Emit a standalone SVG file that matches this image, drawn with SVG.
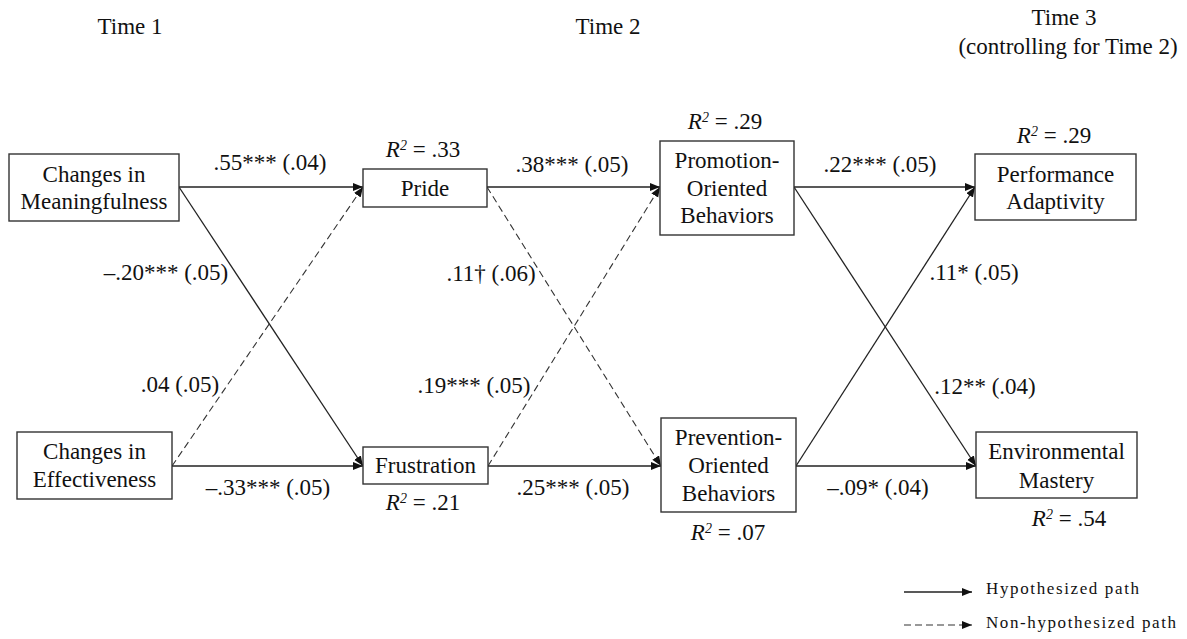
<svg xmlns="http://www.w3.org/2000/svg" width="1187" height="639" viewBox="0 0 1187 639">
<defs>
<style>
text{font-family:'Liberation Serif','Times New Roman','DejaVu Serif',serif;font-size:23px;fill:#111;}
.c{text-anchor:middle;}
.box{fill:#fff;stroke:#333;stroke-width:1.4;}
.p{stroke:#222;stroke-width:1.3;fill:none;marker-end:url(#ah);}
.d{stroke:#333;stroke-width:1.1;fill:none;stroke-dasharray:7,4;marker-end:url(#ah);}
.leg{font-size:17px;}
.i{font-style:italic;}
.sup{font-size:14px;font-style:italic;}
</style>
<marker id="ah" markerUnits="userSpaceOnUse" markerWidth="11" markerHeight="9" refX="10" refY="4" orient="auto">
<path d="M0,0 L10,4 L0,8 z" fill="#111"/>
</marker>
</defs>
<rect width="1187" height="639" fill="#fff"/>

<g id="headers" font-family="Liberation Serif, serif">
<text class="c" x="130" y="34">Time 1</text>
<text class="c" x="608" y="34">Time 2</text>
<text class="c" x="1064" y="25">Time 3</text>
<text class="c" x="1068" y="54">(controlling for Time 2)</text>
</g>

<g id="connectors">
<line class="p" x1="179" y1="187" x2="363" y2="187"/>
<line class="p" x1="179" y1="187" x2="363" y2="466"/>
<line class="d" x1="172" y1="466" x2="363" y2="187"/>
<line class="p" x1="172" y1="466" x2="363" y2="466"/>
<line class="p" x1="487" y1="187" x2="660" y2="187"/>
<line class="d" x1="487" y1="187" x2="661" y2="466"/>
<line class="d" x1="488" y1="466" x2="660" y2="187"/>
<line class="p" x1="488" y1="466" x2="661" y2="466"/>
<line class="p" x1="794" y1="187" x2="975" y2="187"/>
<line class="p" x1="794" y1="187" x2="976" y2="466"/>
<line class="p" x1="796" y1="466" x2="975" y2="187"/>
<line class="p" x1="796" y1="466" x2="976" y2="466"/>
</g>

<g id="path-labels">
<text class="c" x="270" y="170">.55*** (.04)</text>
<text class="c" x="166" y="280">–.20*** (.05)</text>
<text class="c" x="180" y="392">.04 (.05)</text>
<text class="c" x="268" y="495">–.33*** (.05)</text>
<text class="c" x="572" y="172">.38*** (.05)</text>
<text class="c" x="491" y="281">.11† (.06)</text>
<text class="c" x="474" y="393">.19*** (.05)</text>
<text class="c" x="573" y="495">.25*** (.05)</text>
<text class="c" x="880" y="172">.22*** (.05)</text>
<text class="c" x="974" y="280">.11* (.05)</text>
<text class="c" x="985" y="394">.12** (.04)</text>
<text class="c" x="878" y="495">–.09* (.04)</text>
</g>

<g id="node-meaningfulness">
<rect class="box" x="9" y="154" width="170" height="67"/>
<text class="c" x="94" y="182">Changes in</text>
<text class="c" x="94" y="209">Meaningfulness</text>
</g>

<g id="node-effectiveness">
<rect class="box" x="17" y="432" width="155" height="67"/>
<text class="c" x="94.5" y="459">Changes in</text>
<text class="c" x="94.5" y="487">Effectiveness</text>
</g>

<g id="node-pride">
<rect class="box" x="363" y="169" width="124" height="38"/>
<text class="c" x="425" y="196">Pride</text>
<text class="c" x="423" y="157"><tspan class="i">R</tspan><tspan class="sup" dy="-7">2</tspan><tspan dy="7"> = .33</tspan></text>
</g>

<g id="node-frustration">
<rect class="box" x="363" y="447" width="125" height="37"/>
<text class="c" x="425.5" y="473">Frustration</text>
<text class="c" x="423" y="510"><tspan class="i">R</tspan><tspan class="sup" dy="-7">2</tspan><tspan dy="7"> = .21</tspan></text>
</g>

<g id="node-promotion">
<rect class="box" x="660" y="141" width="134" height="94"/>
<text class="c" x="727" y="168">Promotion-</text>
<text class="c" x="727" y="196">Oriented</text>
<text class="c" x="727" y="223">Behaviors</text>
<text class="c" x="725" y="129"><tspan class="i">R</tspan><tspan class="sup" dy="-7">2</tspan><tspan dy="7"> = .29</tspan></text>
</g>

<g id="node-prevention">
<rect class="box" x="661" y="418" width="135" height="94"/>
<text class="c" x="728.5" y="445">Prevention-</text>
<text class="c" x="728.5" y="473">Oriented</text>
<text class="c" x="728.5" y="501">Behaviors</text>
<text class="c" x="728" y="540"><tspan class="i">R</tspan><tspan class="sup" dy="-7">2</tspan><tspan dy="7"> = .07</tspan></text>
</g>

<g id="node-performance">
<rect class="box" x="975" y="154" width="161" height="66"/>
<text class="c" x="1055.5" y="182">Performance</text>
<text class="c" x="1055.5" y="209">Adaptivity</text>
<text class="c" x="1054" y="143"><tspan class="i">R</tspan><tspan class="sup" dy="-7">2</tspan><tspan dy="7"> = .29</tspan></text>
</g>

<g id="node-environmental">
<rect class="box" x="976" y="432" width="161" height="66"/>
<text class="c" x="1056.5" y="459">Environmental</text>
<text class="c" x="1056.5" y="488">Mastery</text>
<text class="c" x="1069" y="526"><tspan class="i">R</tspan><tspan class="sup" dy="-7">2</tspan><tspan dy="7"> = .54</tspan></text>
</g>

<g id="legend">
<line class="p" x1="904" y1="592" x2="972" y2="592" stroke-width="1.1"/>
<text class="leg" x="986" y="594" textLength="153" lengthAdjust="spacing">Hypothesized  path</text>
<line class="d" x1="904" y1="625" x2="972" y2="625" stroke-dasharray="5,3"/>
<text class="leg" x="986" y="628" textLength="190" lengthAdjust="spacing">Non-hypothesized  path</text>
</g>
</svg>
